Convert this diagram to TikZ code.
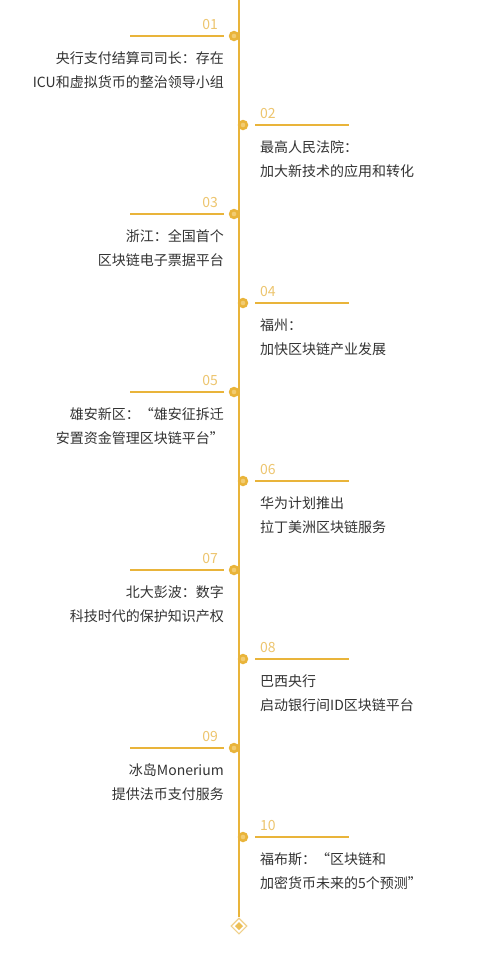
\documentclass[tikz,border=0pt]{standalone}
\usepackage{fontspec}
\setmainfont{Noto Sans CJK SC}
\usetikzlibrary{shapes.geometric}
\definecolor{gold}{HTML}{E9B43A}
\definecolor{goldnum}{HTML}{EDC56E}
\definecolor{goldlight}{HTML}{F2CC72}
\definecolor{goldedge}{HTML}{F0D08A}
\definecolor{txt}{HTML}{333333}
\tikzset{
  spine/.style={draw=gold,line width=1.1pt},
  hline/.style={draw=gold,line width=2pt},
  dot/.style={circle,fill=gold,minimum size=10.5pt,inner sep=0pt,
    path picture={\fill[goldlight] (path picture bounding box.center) circle (2.3pt);}},
  num/.style={text=goldnum,font=\fontsize{14}{14}\selectfont,inner sep=0pt},
  desc/.style={text=txt,font=\fontsize{14}{24}\selectfont,inner sep=0pt},
  enddia/.style={diamond,draw=goldedge,line width=1.1pt,fill=white,minimum size=16pt,inner sep=0pt,
    path picture={\fill[gold!85] ([xshift=-4pt]path picture bounding box.center) -- ++(4pt,-4pt) -- ++(4pt,4pt) -- ++(-4pt,4pt) -- cycle;}}
}
\begin{document}
\begin{tikzpicture}[x=1pt,y=-1pt]
\useasboundingbox[fill=white] (0,0) rectangle (480,962);
\coordinate (top) at (239,0);
\node[enddia] (end) at (239,926) {};
\draw[spine] (top) -- (end.north);
% left items
\foreach \n/\y/\a/\b in {01/36/央行支付结算司司长：存在/ICU和虚拟货币的整治领导小组,
  03/214/浙江：全国首个/区块链电子票据平台,
  05/392/雄安新区：“雄安征拆迁/安置资金管理区块链平台”,
  07/570/北大彭波：数字/科技时代的保护知识产权,
  09/748/冰岛Monerium/提供法币支付服务}{
  \node[dot] (c\n) at (234,\y) {};
  \coordinate (ls\n) at (130,\y);
  \coordinate (le\n) at (224,\y);
  \draw[hline] (ls\n) -- (le\n);
  \node[num,anchor=base east] (n\n) at (218,\y-7) {\n};
  \node[desc,anchor=north east,align=right] (t\n) at (224,\y+15.5) {\a\\\b};
}
% right items
\foreach \n/\y/\a/\b in {02/125/最高人民法院：/加大新技术的应用和转化,
  04/303/福州：/加快区块链产业发展,
  06/481/华为计划推出/拉丁美洲区块链服务,
  08/659/巴西央行/启动银行间ID区块链平台,
  10/837/福布斯：“区块链和/加密货币未来的5个预测”}{
  \node[dot] (c\n) at (243,\y) {};
  \coordinate (ls\n) at (255,\y);
  \coordinate (le\n) at (349,\y);
  \draw[hline] (ls\n) -- (le\n);
  \node[num,anchor=base west] (n\n) at (260,\y-7) {\n};
  \node[desc,anchor=north west,align=left] (t\n) at (260,\y+15.5) {\a\\\b};
}
\end{tikzpicture}
\end{document}
